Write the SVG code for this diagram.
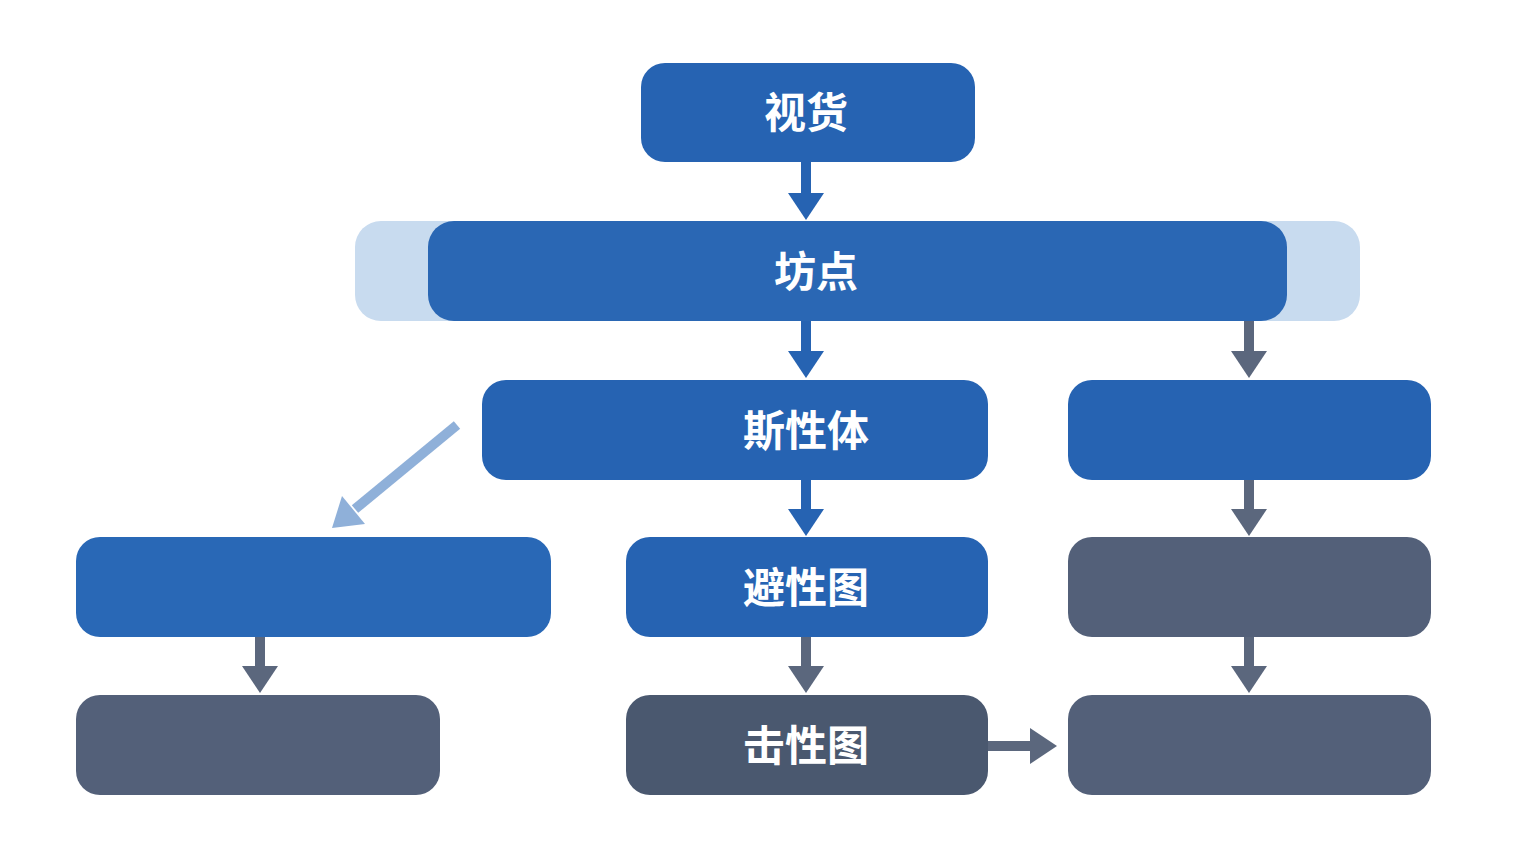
<svg xmlns="http://www.w3.org/2000/svg" width="1536" height="864" viewBox="0 0 1536 864">
<style>
.blue{fill:#2663b2}
.gray{fill:#536079}
.dark{fill:#4a586f}
.halo{fill:#c8dbef}
.t{font-family:"Noto Sans CJK SC","Noto Sans",sans-serif;font-weight:700;font-size:42px;fill:#fff;text-anchor:middle}
.cb{stroke:#2663b2;stroke-width:10;fill:none}
.cg{stroke:#5b677d;stroke-width:10;fill:none}
.cl{stroke:#8fb0d9;stroke-width:10;fill:none}
.hb{fill:#2663b2}
.hg{fill:#5b677d}
.hl{fill:#8fb0d9}
</style>
<rect width="1536" height="864" fill="#ffffff"/>
<g id="n1"><rect class="blue" x="641" y="63" width="334" height="99" rx="24"/><text class="t" x="806" y="128">视货</text></g>
<g id="n2"><rect class="halo" x="355" y="221" width="1005" height="100" rx="26"/><rect class="blue" x="428" y="221" width="859" height="100" rx="26" style="fill:#2a67b4"/><text class="t" x="816" y="287">坊点</text></g>
<g id="n3"><rect class="blue" x="482" y="380" width="506" height="100" rx="24"/><text class="t" x="806" y="446">斯性体</text></g>
<g id="n4"><rect class="blue" x="1068" y="380" width="363" height="100" rx="24"/></g>
<g id="n5"><rect class="blue" x="76" y="537" width="475" height="100" rx="24" style="fill:#2968b6"/></g>
<g id="n6"><rect class="blue" x="626" y="537" width="362" height="100" rx="24"/><text class="t" x="806" y="603">避性图</text></g>
<g id="n7"><rect class="gray" x="1068" y="537" width="363" height="100" rx="24"/></g>
<g id="n8"><rect class="gray" x="76" y="695" width="364" height="100" rx="24"/></g>
<g id="n9"><rect class="dark" x="626" y="695" width="362" height="100" rx="24"/><text class="t" x="806" y="761">击性图</text></g>
<g id="n10"><rect class="gray" x="1068" y="695" width="363" height="100" rx="24"/></g>
<g id="connectors">
<path class="cb" d="M806,162 V194"/><path class="hb" d="M788,193 H824 L806,220 Z"/>
<path class="cb" d="M806,321 V352"/><path class="hb" d="M788,351 H824 L806,378 Z"/>
<path class="cg" d="M1249,321 V352"/><path class="hg" d="M1231,351 H1267 L1249,378 Z"/>
<path class="cb" d="M806,480 V510"/><path class="hb" d="M788,509 H824 L806,536 Z"/>
<path class="cg" d="M1249,480 V510"/><path class="hg" d="M1231,509 H1267 L1249,536 Z"/>
<path class="cl" d="M457,425 L355,509"/><path class="hl" d="M365,524 L342,496 L332,528 Z"/>
<path class="cg" d="M260,637 V667"/><path class="hg" d="M242,666 H278 L260,693 Z"/>
<path class="cg" d="M806,637 V667"/><path class="hg" d="M788,666 H824 L806,693 Z"/>
<path class="cg" d="M1249,637 V667"/><path class="hg" d="M1231,666 H1267 L1249,693 Z"/>
<path class="cg" d="M988,746 H1031"/><path class="hg" d="M1030,728 V764 L1057,746 Z"/>
</g>
</svg>
